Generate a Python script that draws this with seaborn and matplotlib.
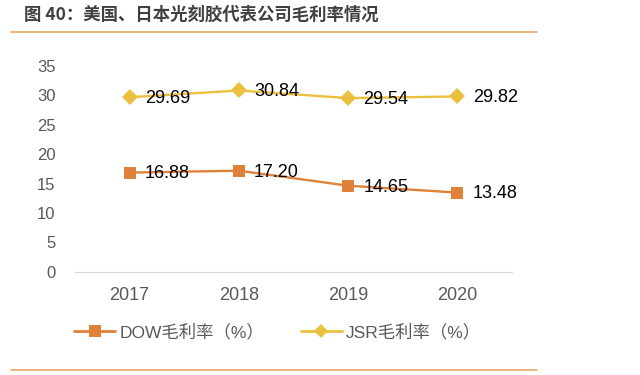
import numpy as np
import pandas as pd
import matplotlib
matplotlib.use("Agg")
import matplotlib.pyplot as plt
import seaborn as sns
from matplotlib.lines import Line2D

years = ["2017", "2018", "2019", "2020"]
dow_margin = [16.88, 17.20, 14.65, 13.48]
jsr_margin = [29.69, 30.84, 29.54, 29.82]
series_names = ["DOW毛利率（%）", "JSR毛利率（%）"]
title = "图 40：美国、日本光刻胶代表公司毛利率情况"

sns.set_style("white")
plt.rcParams['font.family'] = ['Noto Sans CJK SC', 'DejaVu Sans']
latin = ["Liberation Sans", "DejaVu Sans"]

orange = "#E0813A"
yellow = "#EBC03E"

df = pd.DataFrame({
    "x": list(range(len(years))) * 2,
    "value": dow_margin + jsr_margin,
    "series": [series_names[0]] * 4 + [series_names[1]] * 4,
})

fig = plt.figure(figsize=(6.4, 3.75), dpi=100)
ax = fig.add_axes([0.117, 0.275, 0.683, 0.549])

sns.lineplot(data=df, x="x", y="value", hue="series", style="series",
             markers={series_names[0]: "s", series_names[1]: "D"},
             dashes=False, palette=[orange, yellow], markersize=8.5,
             markeredgewidth=0, linewidth=1.7, ax=ax, legend=False)

for vals in (dow_margin, jsr_margin):
    for i, v in enumerate(vals):
        ax.annotate(f"{v:.2f}", (i, v), xytext=(11, -1), textcoords="offset points",
                    ha="left", va="center", fontsize=13, color="black", family=latin)

ax.set_xlim(-0.5, 3.5)
ax.set_ylim(0, 35)
ax.set_yticks(range(0, 36, 5))
ax.set_xticks(range(len(years)))
ax.set_xticklabels(years)
ax.set_xlabel("")
ax.set_ylabel("")
for lab in ax.get_xticklabels() + ax.get_yticklabels():
    lab.set_family(latin)
ax.tick_params(axis="both", length=0, labelcolor="#595959")
ax.tick_params(axis="x", pad=11, labelsize=13)
ax.tick_params(axis="y", pad=14, labelsize=12)
for s in ["top", "right", "left"]:
    ax.spines[s].set_visible(False)
ax.spines["bottom"].set_color("#D9D9D9")
ax.grid(False)

handles = [Line2D([], [], color=orange, marker="s", markersize=8, lw=2, markeredgewidth=0),
           Line2D([], [], color=yellow, marker="D", markersize=7, lw=2, markeredgewidth=0)]
leg = fig.legend(handles, series_names, loc="center", bbox_to_anchor=(0.434, 0.115), ncol=2,
                 frameon=False, fontsize=12.5, labelcolor="#595959", handlelength=2.36,
                 handletextpad=0.25, columnspacing=2.1)
for t in leg.get_texts():
    t.set_family(["Liberation Sans", "Noto Sans CJK SC"])

fig.text(0.0375, 0.96, title, fontsize=12.5, fontweight="bold", color="#404040",
         va="center", ha="left")
fig.add_artist(Line2D([0.017, 0.839], [0.915, 0.915], color="#E8A968", lw=1.2))
fig.add_artist(Line2D([0.017, 0.839], [0.0133, 0.0133], color="#E8A968", lw=1.2))

fig.savefig("out.png", dpi=100)
